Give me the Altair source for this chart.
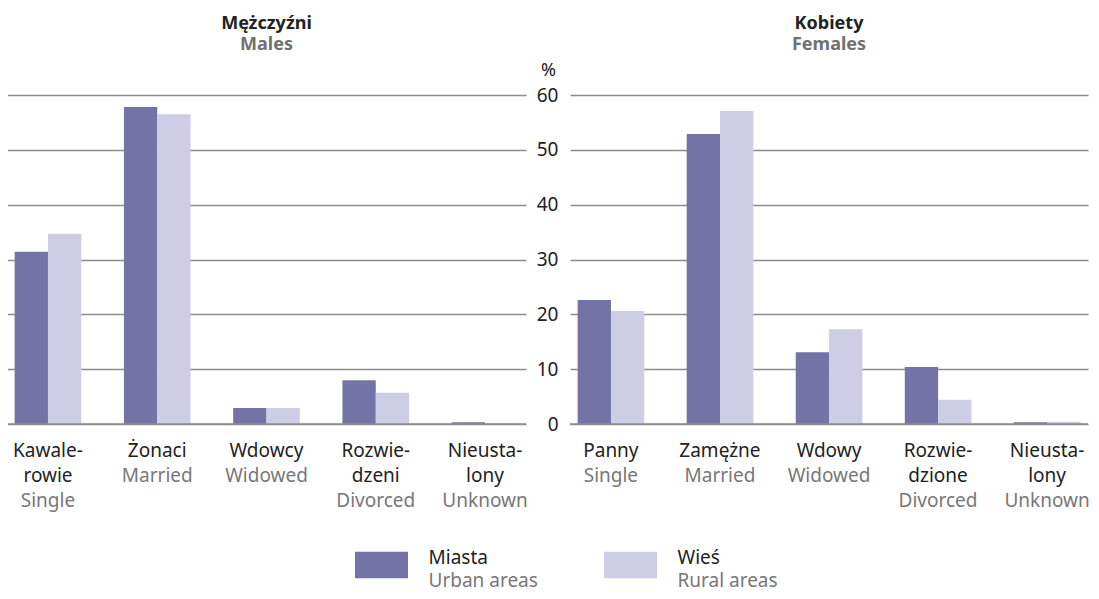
import altair as alt
import pandas as pd

FONT = "Noto Sans"
DARK = "#222222"
GRAY = "#777777"
GRID = "#8c8c8c"

series = ["Miasta", "Wieś"]
series_en = ["Urban areas", "Rural areas"]
colors = ["#7373a7", "#cdcde5"]

male_cats = ["Kawalerowie", "Żonaci", "Wdowcy", "Rozwiedzeni", "Nieustalony"]
male_lines = [["Kawale-", "rowie"], ["Żonaci"], ["Wdowcy"], ["Rozwie-", "dzeni"], ["Nieusta-", "lony"]]
male_en = ["Single", "Married", "Widowed", "Divorced", "Unknown"]
male_urban = [31.4, 57.8, 2.9, 8.0, 0.3]
male_rural = [34.7, 56.5, 2.9, 5.7, 0.2]

female_cats = ["Panny", "Zamężne", "Wdowy", "Rozwiedzione", "Nieustalony "]
female_lines = [["Panny"], ["Zamężne"], ["Wdowy"], ["Rozwie-", "dzione"], ["Nieusta-", "lony"]]
female_en = ["Single", "Married", "Widowed", "Divorced", "Unknown"]
female_urban = [22.6, 52.9, 13.1, 10.4, 0.3]
female_rural = [20.6, 57.1, 17.3, 4.4, 0.4]

y_ticks = [0, 10, 20, 30, 40, 50, 60]

H = 329
LABEL_Y = H + 18
LINE_H = 25


def panel(cats, lines, en, urban, rural, title, subtitle, width, show_labels):
    rows = []
    for c, u, r in zip(cats, urban, rural):
        rows.append({"cat": c, "series": series[0], "value": u})
        rows.append({"cat": c, "series": series[1], "value": r})
    df = pd.DataFrame(rows)
    tdf = pd.DataFrame({
        "cat": cats,
        "pl": ["\n".join(l) for l in lines],
        "en": en,
        "n": [len(l) for l in lines],
    })
    xscale = alt.Scale(paddingInner=0.39, paddingOuter=0.07)
    common = dict(values=y_ticks, grid=True, gridColor=GRID, gridWidth=1.5,
                  domain=False, ticks=False, title="%", titleAngle=0, titleY=-20,
                  titleAlign="center", titleBaseline="alphabetic",
                  titleFontWeight="normal", titleFontSize=18, titleFont=FONT,
                  minExtent=0)
    if show_labels:
        yaxis = alt.Axis(labelPadding=12, labelFontSize=19, labelColor=DARK, labelFont=FONT,
                         titleX=-22, titleColor=DARK, **common)
    else:
        yaxis = alt.Axis(labels=False, titleX=20, titleOpacity=0, **common)
    bars = alt.Chart(df).mark_bar().encode(
        x=alt.X("cat:N", sort=cats, scale=xscale, axis=None),
        xOffset=alt.XOffset("series:N", sort=series),
        y=alt.Y("value:Q", scale=alt.Scale(domain=[0, 60], nice=False), axis=yaxis),
        color=alt.Color("series:N", scale=alt.Scale(domain=series, range=colors), legend=None),
    )
    zero = alt.Chart(pd.DataFrame({"v": [0]})).mark_rule(color=GRID, strokeWidth=1.5).encode(
        y=alt.Y("v:Q")
    )
    txt = dict(baseline="top", align="center", lineBreak="\n", fontSize=19,
               lineHeight=LINE_H, font=FONT)
    tpl = alt.Chart(tdf).mark_text(color=DARK, **txt).encode(
        x=alt.X("cat:N", sort=cats), y=alt.value(LABEL_Y), text="pl:N")
    ten1 = alt.Chart(tdf).transform_filter("datum.n == 1").mark_text(color=GRAY, **txt).encode(
        x=alt.X("cat:N", sort=cats), y=alt.value(LABEL_Y + LINE_H), text="en:N")
    ten2 = alt.Chart(tdf).transform_filter("datum.n == 2").mark_text(color=GRAY, **txt).encode(
        x=alt.X("cat:N", sort=cats), y=alt.value(LABEL_Y + 2 * LINE_H), text="en:N")
    return alt.layer(bars, zero, tpl, ten1, ten2).properties(
        width=width, height=H,
        title=alt.TitleParams(text=title, subtitle=subtitle, fontSize=18, fontWeight="bold",
                              color=DARK, font=FONT, subtitleFont=FONT, subtitleFontSize=18,
                              subtitleFontWeight="bold", subtitleColor="#707070",
                              subtitlePadding=3, anchor="middle", offset=7.5),
    )


left = panel(male_cats, male_lines, male_en, male_urban, male_rural, "Mężczyźni", "Males", 519, False)
right = panel(female_cats, female_lines, female_en, female_urban, female_rural, "Kobiety", "Females", 518, True)

top = alt.hconcat(left, right, spacing=8)

legend_pos = [0, 1]
ldf = pd.DataFrame({"series": series, "en": series_en, "pos": legend_pos})
lx = alt.X("pos:Q", scale=alt.Scale(domain=[-1.504, 2.8333], nice=False, zero=False), axis=None)
sw = alt.Chart(ldf).mark_point(shape="M-1,-0.5H1V0.5H-1Z", size=2809, filled=True, opacity=1).encode(
    x=lx, y=alt.value(13),
    color=alt.Color("series:N", scale=alt.Scale(domain=series, range=colors), legend=None))
lt1 = alt.Chart(ldf).mark_text(align="left", baseline="alphabetic", dx=47, fontSize=19,
                               color=DARK, font=FONT).encode(x=lx, y=alt.value(12), text="series:N")
lt2 = alt.Chart(ldf).mark_text(align="left", baseline="alphabetic", dx=47, fontSize=19,
                               color=GRAY, font=FONT).encode(x=lx, y=alt.value(35), text="en:N")
legend = alt.layer(sw, lt1, lt2).properties(width=1080, height=30)

chart = alt.vconcat(top, legend, spacing=38).properties(
    padding={"left": -2, "top": 6, "right": 0, "bottom": 0}
).configure(font=FONT).configure_view(stroke=None)

chart.save("out.html", embed_options={"renderer": "svg", "actions": False})
